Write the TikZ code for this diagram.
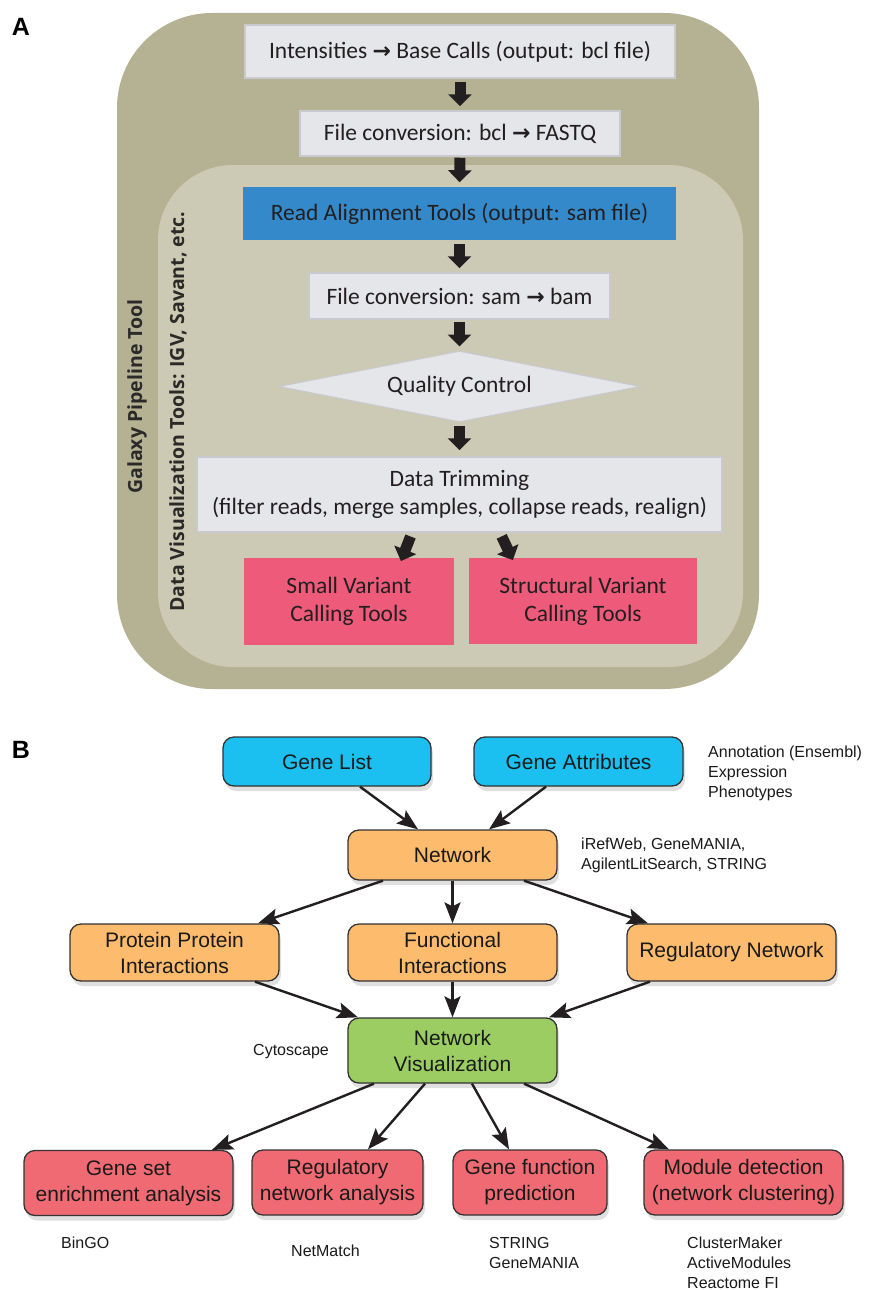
\documentclass[tikz,border=0pt]{standalone}
\usepackage{fontspec}
\setmainfont{Liberation Sans}
\newfontfamily\calfont{Carlito}
\newfontfamily\osfont{Open Sans}
\newfontfamily\dvfont{DejaVu Sans}
\usetikzlibrary{shapes.geometric,arrows.meta,shadows,calc}
\definecolor{outerC}{HTML}{B5B294}
\definecolor{innerC}{HTML}{CCC9B4}
\definecolor{boxfill}{HTML}{E5E6EA}
\definecolor{boxborder}{HTML}{C9CACF}
\definecolor{blueC}{HTML}{3389CA}
\definecolor{pinkC}{HTML}{EE5A7A}
\definecolor{arrC}{HTML}{231F20}
\definecolor{txtA}{HTML}{231F20}
\definecolor{vtxt}{HTML}{2B2A28}
\definecolor{cyanB}{HTML}{1CC0F0}
\definecolor{orangeB}{HTML}{FCBB6D}
\definecolor{greenB}{HTML}{9BCD63}
\definecolor{redB}{HTML}{F06A73}
\definecolor{bbord}{HTML}{333333}
\definecolor{txtB}{HTML}{1A1A1A}
\newcommand{\rarr}{{\dvfont\bfseries\fontsize{22}{22}\selectfont →}}
\tikzset{
  abox/.style={draw=boxborder, line width=1.5pt, fill=boxfill, text=txtA,
    font=\calfont\fontsize{23.5}{28}\selectfont, inner sep=0pt, align=center},
  blockarr/.style={draw=arrC, line width=11pt, -{Triangle[width=23pt,length=12pt]}},
  bbox/.style={draw=bbord, line width=1.3pt, rounded corners=11pt, text=txtB,
    font=\fontsize{21}{26}\selectfont, align=center, inner sep=0pt,
    drop shadow={shadow xshift=2pt, shadow yshift=-5pt, opacity=0.25}},
  barr/.style={draw=arrC, line width=2.4pt, -{Stealth[length=21pt,width=16pt,inset=4pt]}},
  side/.style={font=\fontsize{16}{20}\selectfont, align=left, inner sep=0pt, text=txtB},
  panel/.style={font=\bfseries\fontsize{25}{25}\selectfont, inner sep=0pt},
  vlabel/.style={rotate=90, font=\osfont\bfseries\fontsize{19.5}{20}\selectfont, text=vtxt, inner sep=0pt}
}
\begin{document}
\begin{tikzpicture}[x=1pt,y=-1pt]
\useasboundingbox (0,0) rectangle (868,1290);
\fill[white] (0,0) rectangle (868,1290);
% ---------------- Panel A ----------------
\node[panel] (labA) at (21,27) {A};
\fill[outerC, rounded corners=95pt] (117,13) rectangle (759,689);
\fill[innerC, rounded corners=75pt] (158,165) rectangle (743,667);
\node[vlabel] (gal) at (137,396.5) {Galaxy Pipeline Tool};
\node[vlabel] (dvt) at (178,411.5) {Data Visualization Tools: IGV, Savant, etc.};

\node[abox, minimum width=430pt, minimum height=53pt] (int) at (460,51.5)
  {Intensities \rarr{} Base Calls (output: bcl file)};
\node[abox, minimum width=320pt, minimum height=45pt] (fq) at (460,133.5)
  {File conversion: bcl \rarr{} FASTQ};
\node[abox, fill=blueC, draw=blueC, minimum width=431pt, minimum height=51pt] (ra) at (459.5,213.5)
  {Read Alignment Tools (output: sam file)};
\node[abox, minimum width=301pt, minimum height=46pt] (sb) at (459.5,296)
  {File conversion: sam \rarr{} bam};
\node[abox, diamond, aspect=5.08, line width=1pt, minimum width=361pt, minimum height=71pt] (qc) at (459.5,386.5)
  {Quality Control};
\node[abox, minimum width=525pt, minimum height=75pt] (dt) at (459.5,494.5)
  {Data Trimming\\(filter reads, merge samples, collapse reads, realign)};
\node[abox, fill=pinkC, draw=pinkC, minimum width=208pt, minimum height=85pt] (sv) at (349,601.5)
  {Small Variant\\Calling Tools};
\node[abox, fill=pinkC, draw=pinkC, minimum width=226pt, minimum height=84pt] (stv) at (583,601)
  {Structural Variant\\Calling Tools};

\draw[blockarr, shorten <=3pt, shorten >=4pt] (int.south) -- (fq.north);
\draw[blockarr, shorten <=1pt, shorten >=5pt] (fq.south) -- (ra.north);
\draw[blockarr, shorten <=4pt, shorten >=4pt] (ra.south) -- (sb.north);
\draw[blockarr, shorten <=2pt, shorten >=4pt] (sb.south) -- (qc.north);
\draw[blockarr, shorten <=3pt, shorten >=6pt] (qc.south) -- (dt.north);
\draw[blockarr, shorten <=4pt, shorten >=-3pt] ([xshift=-47.5pt]dt.south) -- ([xshift=53pt]sv.north);
\draw[blockarr, shorten <=4pt, shorten >=-2pt] ([xshift=40.5pt]dt.south) -- ([xshift=-71pt]stv.north);

% ---------------- Panel B ----------------
\node[panel] (labB) at (21,750) {B};
\node[bbox, fill=cyanB, minimum width=208pt, minimum height=49pt] (gl) at (327,761.5) {Gene List};
\node[bbox, fill=cyanB, minimum width=209pt, minimum height=49pt] (ga) at (578.5,761.5) {Gene Attributes};
\node[bbox, fill=orangeB, minimum width=209pt, minimum height=50pt] (net) at (452.5,855) {Network};
\node[bbox, fill=orangeB, minimum width=209pt, minimum height=57pt] (ppi) at (174.5,952.5) {Protein Protein\\Interactions};
\node[bbox, fill=orangeB, minimum width=209pt, minimum height=57pt] (fi) at (452.5,952.5) {Functional\\Interactions};
\node[bbox, fill=orangeB, minimum width=209pt, minimum height=57pt] (rn) at (731.5,952.5) {Regulatory Network};
\node[bbox, fill=greenB, minimum width=209pt, minimum height=65pt] (nv) at (452.5,1050.5) {Network\\Visualization};
\node[bbox, fill=redB, minimum width=209pt, minimum height=65pt] (gs) at (128.5,1183) {Gene set\\enrichment analysis};
\node[bbox, fill=redB, minimum width=171pt, minimum height=65pt] (rna) at (337.5,1182.5) {Regulatory\\network analysis};
\node[bbox, fill=redB, minimum width=154pt, minimum height=65pt] (gf) at (530,1182.5) {Gene function\\prediction};
\node[bbox, fill=redB, minimum width=199pt, minimum height=65pt] (md) at (743.5,1182.5) {Module detection\\(network clustering)};

\node[side, anchor=west] (annot) at (708,773) {Annotation (Ensembl)\\Expression\\Phenotypes};
\node[side, anchor=west] (iref) at (581,855.5) {iRefWeb, GeneMANIA,\\AgilentLitSearch, STRING};
\node[side, anchor=east] (cyto) at (329,1052) {Cytoscape};
\node[side, anchor=west] (bingo) at (61,1243) {BinGO};
\node[side, anchor=west] (netm) at (291,1251) {NetMatch};
\node[side, anchor=west] (strg) at (489,1253) {STRING\\GeneMANIA};
\node[side, anchor=west] (clus) at (687,1263) {ClusterMaker\\ActiveModules\\Reactome FI};

\draw[barr] ([xshift=33pt]gl.south) -- ([xshift=-34.5pt]net.north);
\draw[barr] ([xshift=-32.5pt]ga.south) -- ([xshift=36.5pt]net.north);
\draw[barr] ([xshift=-69.5pt]net.south) -- ([xshift=83.5pt]ppi.north);
\draw[barr] (net.south) -- (fi.north);
\draw[barr] ([xshift=71.5pt]net.south) -- ([xshift=-83.5pt]rn.north);
\draw[barr] ([xshift=80.5pt]ppi.south) -- ([xshift=-94.5pt]nv.north);
\draw[barr] (fi.south) -- (nv.north);
\draw[barr] ([xshift=-81.5pt]rn.south) -- ([xshift=96.5pt]nv.north);
\draw[barr] ([xshift=-78.5pt]nv.south) -- ([xshift=83.5pt]gs.north);
\draw[barr] ([xshift=-27.5pt]nv.south) -- ([xshift=30.5pt]rna.north);
\draw[barr] ([xshift=19.5pt]nv.south) -- ([xshift=-21pt]gf.north);
\draw[barr] ([xshift=71.5pt]nv.south) -- ([xshift=-74.5pt]md.north);
\end{tikzpicture}
\end{document}
